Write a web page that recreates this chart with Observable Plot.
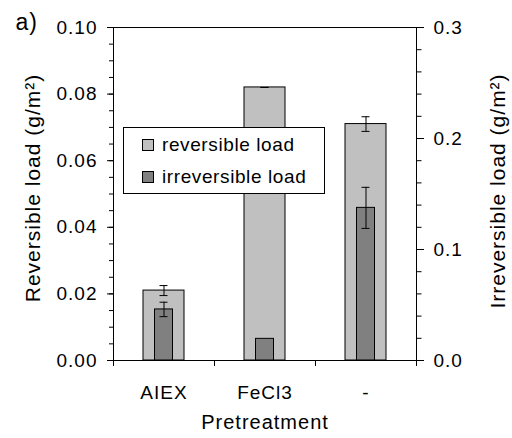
<!DOCTYPE html>
<html><head><meta charset="utf-8">
<script src="https://cdn.jsdelivr.net/npm/d3@7"></script>
<script src="https://cdn.jsdelivr.net/npm/@observablehq/plot@0.6"></script>
<style>
body{margin:0;background:#fff;}
#wrap{position:relative;width:512px;height:438px;}
#legend{position:absolute;left:0;top:0;pointer-events:none;}
#legend text{font-family:"Liberation Sans",Arial,sans-serif;font-size:19px;letter-spacing:0.6px;fill:#000;}
</style></head>
<body><div id="wrap"></div>
<script>
const categories = ["AIEX", "FeCl3", "-"];
const reversible = [0.021, 0.082, 0.071];
const reversibleErr = [0.0015, 0, 0.0022];
const irreversible = [0.046, 0.0195, 0.1375];
const irreversibleErr = [0.0065, 0, 0.0185];
const leftTicks = [0, 0.02, 0.04, 0.06, 0.08, 0.10];
const leftMinorTicks = [0,0.005,0.01,0.015,0.02,0.025,0.03,0.035,0.04,0.045,0.05,0.055,0.06,0.065,0.07,0.075,0.08,0.085,0.09,0.095,0.1];
const rightTicks = [0, 0.1, 0.2, 0.3];
const rightMinorTicks = [0,0.02,0.04,0.06,0.08,0.1,0.12,0.14,0.16,0.18,0.2,0.22,0.24,0.26,0.28,0.3];
const legendLabels = ["reversible load", "irreversible load"];
const colors = ["#c0c0c0", "#808080"];

const ratio = 0.1 / 0.3; // right axis -> left axis units

const rev = categories.map((c, i) => ({i, c, v: reversible[i], e: reversibleErr[i]}));
const irr = categories.map((c, i) => ({i, c, v: irreversible[i] * ratio, e: irreversibleErr[i] * ratio}));

const font = {fontFamily: "Liberation Sans, Arial, sans-serif", fontSize: "19px", letterSpacing: "1px"};

const chart = Plot.plot({
  width: 512, height: 438,
  marginLeft: 113, marginRight: 96, marginTop: 27, marginBottom: 78,
  style: {...font, background: "#fff", color: "#000", overflow: "visible"},
  x: {type: "linear", domain: [0, 3], axis: null},
  y: {domain: [0, 0.1], axis: null},
  marks: [
    Plot.rectY(rev, {x1: d => d.i, x2: d => d.i + 1, y: "v", insetLeft: 30, insetRight: 30, fill: colors[0], stroke: "#000", strokeWidth: 1}),
    Plot.ruleX(rev, {x: d => d.i + 0.5, y1: d => d.v - d.e, y2: d => d.v + d.e, stroke: "#000"}),
    Plot.ruleY(rev.flatMap(d => [{...d, y: d.v - d.e}, {...d, y: d.v + d.e}]), {x1: d => d.i + 0.5, x2: d => d.i + 0.5, y: "y", insetLeft: -4, insetRight: -4, stroke: "#000"}),
    Plot.rectY(irr, {x1: d => d.i, x2: d => d.i + 1, y: "v", insetLeft: 41.5, insetRight: 41.5, fill: colors[1], stroke: "#000", strokeWidth: 1}),
    Plot.ruleX(irr.filter(d => d.e > 0), {x: d => d.i + 0.5, y1: d => d.v - d.e, y2: d => d.v + d.e, stroke: "#000"}),
    Plot.ruleY(irr.filter(d => d.e > 0).flatMap(d => [{...d, y: d.v - d.e}, {...d, y: d.v + d.e}]), {x1: d => d.i + 0.5, x2: d => d.i + 0.5, y: "y", insetLeft: -4, insetRight: -4, stroke: "#000"}),
    Plot.frame({stroke: "#000"}),
    Plot.axisY(leftMinorTicks, {anchor: "left", tickSize: 4, tickFormat: () => "", label: null}),
    Plot.axisY(leftTicks, {anchor: "left", tickSize: 6, tickPadding: 10, tickFormat: d => d.toFixed(2), label: null}),
    Plot.axisY(rightMinorTicks.map(v => v * ratio), {anchor: "right", tickSize: 4.5, tickFormat: () => "", label: null}),
    Plot.axisY(rightTicks.map(v => v * ratio), {anchor: "right", tickSize: 7, tickPadding: 10, tickFormat: d => (d / ratio).toFixed(1), label: null}),
    Plot.axisX([0, 1, 2, 3], {anchor: "bottom", tickSize: 6, tickFormat: () => "", label: null}),
    Plot.axisX(categories.map((c, i) => i + 0.5), {anchor: "bottom", tickSize: 0, tickPadding: 25, tickFormat: d => categories[Math.floor(d)], label: null}),
    Plot.text(["Pretreatment"], {text: d => d, frameAnchor: "bottom", dy: 68, fontSize: 20, letterSpacing: "1.4px"}),
    Plot.text(["Reversible load (g/m²)"], {text: d => d, frameAnchor: "left", textAnchor: "middle", lineAnchor: "middle", rotate: -90, dx: -80, dy: -6, fontSize: 21}),
    Plot.text(["Irreversible load (g/m²)"], {text: d => d, frameAnchor: "right", textAnchor: "middle", lineAnchor: "middle", rotate: -90, dx: 82, dy: -3, fontSize: 21}),
    Plot.text(["a)"], {text: d => d, frameAnchor: "top-left", textAnchor: "start", lineAnchor: "middle", dx: -98, dy: -5, fontSize: 23})
  ]
});

const wrap = document.getElementById("wrap");
wrap.appendChild(chart);

// legend overlay
const ns = "http://www.w3.org/2000/svg";
const lg = document.createElementNS(ns, "svg");
lg.setAttribute("id", "legend");
lg.setAttribute("width", 512);
lg.setAttribute("height", 438);
const box = document.createElementNS(ns, "rect");
box.setAttribute("x", 123.5); box.setAttribute("y", 127.5);
box.setAttribute("width", 201); box.setAttribute("height", 66);
box.setAttribute("fill", "#fff"); box.setAttribute("stroke", "#000");
lg.appendChild(box);
legendLabels.forEach((lab, k) => {
  const sw = document.createElementNS(ns, "rect");
  sw.setAttribute("x", 142.5); sw.setAttribute("y", 139.5 + k * 32);
  sw.setAttribute("width", 11); sw.setAttribute("height", 11);
  sw.setAttribute("fill", colors[k]); sw.setAttribute("stroke", "#000");
  lg.appendChild(sw);
  const t = document.createElementNS(ns, "text");
  t.setAttribute("x", 162); t.setAttribute("y", 151 + k * 32);
  t.textContent = lab;
  lg.appendChild(t);
});
wrap.appendChild(lg);
</script>
</body></html>
